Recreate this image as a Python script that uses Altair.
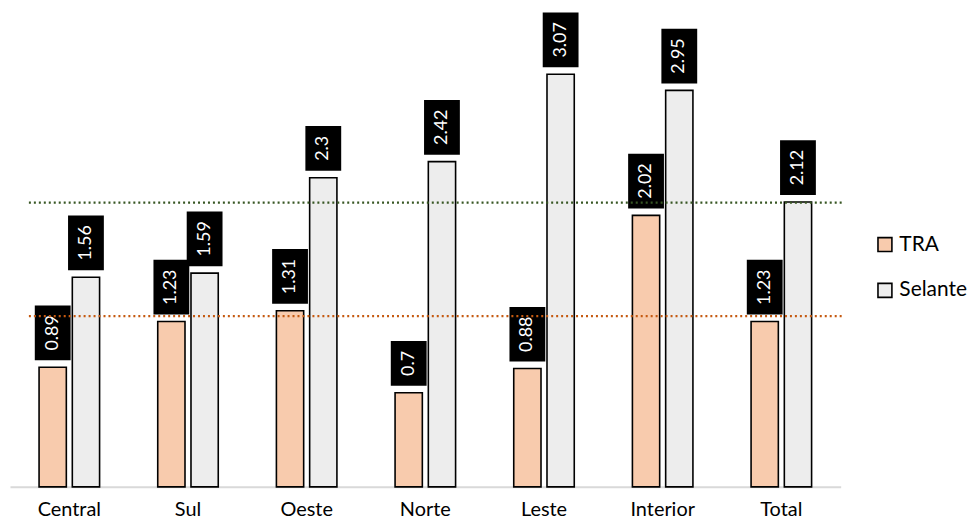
import altair as alt
import pandas as pd

categories = ["Central", "Sul", "Oeste", "Norte", "Leste", "Interior", "Total"]
tra = [0.89, 1.23, 1.31, 0.7, 0.88, 2.02, 1.23]
selante = [1.56, 1.59, 2.3, 2.42, 3.07, 2.95, 2.12]
series = ["TRA", "Selante"]
ref_tra = 1.27
ref_selante = 2.115

rows = []
for i, c in enumerate(categories):
    rows.append({"cat": c, "serie": "TRA", "value": tra[i]})
    rows.append({"cat": c, "serie": "Selante", "value": selante[i]})
df = pd.DataFrame(rows)

W = 835
H = 480
YMAX = 3.553
PPU = H / YMAX
FONT = "Lato"

xenc = alt.X("cat:N", sort=categories, title=None,
             scale=alt.Scale(paddingInner=0.49, paddingOuter=0.245),
             axis=alt.Axis(labelFontSize=20, labelFont=FONT, labelColor="black",
                           ticks=False, domainColor="#D9D9D9", domainWidth=2,
                           labelPadding=13, labelAngle=0))
xoff = alt.XOffset("serie:N", sort=series, scale=alt.Scale(paddingInner=0.18, paddingOuter=0))
yscale = alt.Scale(domain=[0, YMAX], nice=False)

base = alt.Chart(df)

bars = base.mark_bar(stroke="black", strokeWidth=1.6).encode(
    x=xenc,
    xOffset=xoff,
    y=alt.Y("value:Q", scale=yscale, axis=None),
    color=alt.Color("serie:N", sort=series,
                    scale=alt.Scale(domain=series, range=["#F8CBAD", "#EDEDED"]),
                    legend=alt.Legend(title=None, orient="none", legendX=869, legendY=226,
                                      symbolType="square", symbolSize=196,
                                      symbolStrokeColor="black", symbolStrokeWidth=1.6,
                                      labelFont=FONT, labelFontSize=21, labelColor="black",
                                      rowPadding=24, labelOffset=4, padding=0)),
)

lab = base.transform_calculate(
    label="'' + datum.value",
).transform_calculate(
    boxh="20 + 10*(length(datum.label)-1) + 5",
).transform_calculate(
    ylo=f"datum.value + 7/{PPU}",
    yhi=f"datum.value + (7 + datum.boxh)/{PPU}",
    ymid=f"datum.value + (7 + datum.boxh/2)/{PPU}",
)

boxes = lab.mark_bar(color="black", size=36).encode(
    x=alt.X("cat:N", sort=categories),
    xOffset=xoff,
    y=alt.Y("ylo:Q", scale=yscale),
    y2="yhi:Q",
)

texts = lab.mark_text(color="white", font=FONT, fontSize=18, angle=270,
                      align="center", baseline="middle").encode(
    x=alt.X("cat:N", sort=categories),
    xOffset=xoff,
    y=alt.Y("ymid:Q", scale=yscale),
    text="label:N",
)

refs = pd.DataFrame({"y": [ref_tra, ref_selante], "col": ["#C55A11", "#375623"]})
rules = alt.Chart(refs).mark_rule(strokeDash=[2, 3], strokeWidth=2.4).encode(
    y=alt.Y("y:Q", scale=yscale),
    x=alt.value(19),
    x2=alt.value(838),
    color=alt.Color("col:N", scale=None),
)

chart = alt.layer(bars, boxes, texts, rules).properties(
    width=W, height=H,
    autosize=alt.AutoSizeParams(type="none"),
    padding={"left": 2, "top": 0, "right": 130, "bottom": 34},
).configure_view(stroke=None)

chart.save("out.html", embed_options={"renderer": "svg", "actions": False})
